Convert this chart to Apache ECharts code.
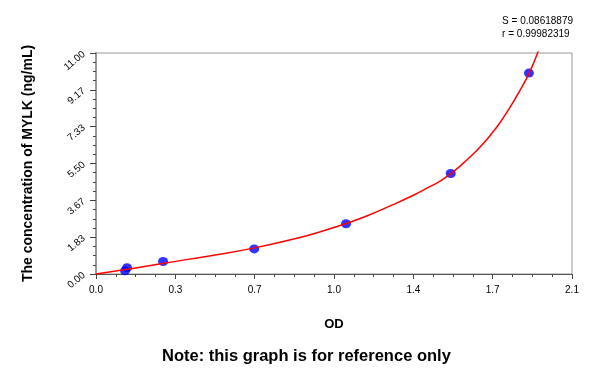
<!DOCTYPE html>
<html>
<head>
<meta charset="utf-8">
<script src="https://cdn.jsdelivr.net/npm/echarts@6/dist/echarts.min.js"></script>
<style>html,body{margin:0;padding:0;background:#fff}#c{width:600px;height:374px}</style>
</head>
<body>
<div id="c"></div>
<script>
// Standard points (OD, concentration)
const pointOD = [0.128, 0.137, 0.296, 0.698, 1.103, 1.565, 1.910];
const pointConc = [0.156, 0.312, 0.625, 1.25, 2.5, 5.0, 10.0];
// Fitted curve
const curveOD = [0, 0.13, 0.3, 0.5, 0.7, 0.9, 1.0, 1.1, 1.2, 1.31, 1.4, 1.46, 1.52, 1.565, 1.606, 1.664, 1.70, 1.74, 1.782, 1.82, 1.87, 1.911, 1.951];
const curveConc = [0, 0.22, 0.54, 0.9, 1.3, 1.82, 2.14, 2.5, 2.915, 3.45, 3.92, 4.27, 4.64, 5.0, 5.37, 5.97, 6.39, 6.91, 7.53, 8.18, 9.13, 10.0, 11.07];
const xTickLabels = ['0.0', '0.3', '0.7', '1.0', '1.4', '1.7', '2.1'];
const yTickLabels = ['0.00', '1.83', '3.67', '5.50', '7.33', '9.17', '11.00'];
const statLines = ['S = 0.08618879', 'r = 0.99982319'];

const xInt = 0.35, yInt = 11 / 6;
const chart = echarts.init(document.getElementById('c'), null, {renderer: 'canvas'});
const font = 'Liberation Sans, Arial, sans-serif';
chart.setOption({
  animation: false,
  grid: {left: 96, right: 28, top: 53, bottom: 100, show: true, borderColor: '#999', borderWidth: 1},
  xAxis: {
    type: 'value', min: 0, max: 2.1, interval: xInt,
    name: 'OD', nameLocation: 'middle', nameGap: 44,
    nameTextStyle: {fontFamily: font, fontSize: 13, fontWeight: 'bold', color: '#000'},
    axisLine: {lineStyle: {color: '#555', width: 1}},
    axisTick: {show: true, length: 5, lineStyle: {color: '#444'}},
    minorTick: {show: true, splitNumber: 4, length: 3, lineStyle: {color: '#444'}},
    splitLine: {show: false},
    axisLabel: {fontFamily: font, fontSize: 10, color: '#000', margin: 11,
      formatter: v => xTickLabels[Math.round(v / xInt)] || ''}
  },
  yAxis: {
    type: 'value', min: 0, max: 11, interval: yInt,
    name: 'The concentration of MYLK (ng/mL)', nameLocation: 'middle', nameGap: 61,
    nameTextStyle: {fontFamily: font, fontSize: 14, fontWeight: 'bold', color: '#000'},
    axisLine: {lineStyle: {color: '#999', width: 2}},
    axisTick: {show: true, length: 6, lineStyle: {color: '#444'}},
    minorTick: {show: true, splitNumber: 4, length: 3, lineStyle: {color: '#444'}},
    splitLine: {show: false},
    axisLabel: {fontFamily: font, fontSize: 10, color: '#000', rotate: 40, margin: 12,
      formatter: v => yTickLabels[Math.round(v / yInt)] || ''}
  },
  graphic: [
    {type: 'text', right: 27, top: 15, style: {text: statLines.join('\n'), fontFamily: font, fontSize: 10, fill: '#000', align: 'right', lineHeight: 13}},
    {type: 'text', left: 162, top: 348, style: {text: 'Note: this graph is for reference only', fontFamily: font, fontSize: 16.5, fontWeight: 'bold', fill: '#000'}}
  ],
  series: [
    {type: 'line', data: curveOD.map((x, i) => [x, curveConc[i]]), smooth: 0.5, showSymbol: false, clip: false,
      lineStyle: {color: '#ff0000', width: 1.5}, z: 3},
    {type: 'scatter', data: pointOD.map((x, i) => [x, pointConc[i]]), symbol: 'circle', symbolSize: [10, 9],
      itemStyle: {color: '#0000ff'}, z: 2}
  ]
});
</script>
</body>
</html>
